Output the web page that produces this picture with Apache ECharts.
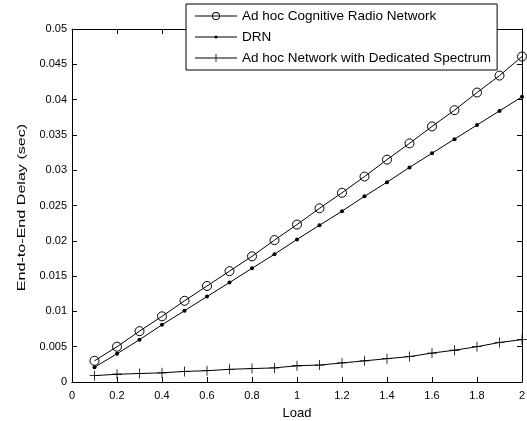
<!DOCTYPE html>
<html>
<head>
<meta charset="utf-8">
<script src="https://cdn.jsdelivr.net/npm/echarts@6/dist/echarts.min.js"></script>
<style>
html,body{margin:0;padding:0;background:#fff;}
#chart{width:527px;height:421px;}
</style>
</head>
<body>
<div id="chart"></div>
<script>
const loads = [0.1,0.2,0.3,0.4,0.5,0.6,0.7,0.8,0.9,1.0,1.1,1.2,1.3,1.4,1.5,1.6,1.7,1.8,1.9,2.0];
const acrn = [0.0030,0.0050,0.0072,0.0093,0.0115,0.0136,0.0157,0.0178,0.0201,0.0223,0.0246,0.0268,0.0291,0.0315,0.0338,0.0362,0.0385,0.0410,0.0434,0.0461];
const drn = [0.0021,0.0040,0.0060,0.0081,0.0101,0.0121,0.0141,0.0161,0.0181,0.0202,0.0222,0.0242,0.0263,0.0283,0.0304,0.0324,0.0344,0.0364,0.0384,0.0404];
const dedicated = [0.0009,0.0011,0.0012,0.0013,0.0015,0.0016,0.0018,0.0019,0.0020,0.0023,0.0024,0.0027,0.0030,0.0033,0.0036,0.0041,0.0045,0.0050,0.0056,0.0060];
const seriesNames = ['Ad hoc Cognitive Radio Network','DRN','Ad hoc Network with Dedicated Spectrum'];
const xTitle = 'Load';
const yTitle = 'End-to-End Delay (sec)';

const FONT = 'Liberation Sans, Arial, sans-serif';
const pair = arr => loads.map((x,i)=>[x,arr[i]]);
const plusPath = 'path://M4.6,0h0.8v10h-0.8zM0,4.6h10v0.8h-10z';

// legend icons (42 x 10 box; tiny corner marks fix the bounding box)
const corners = 'M0,0h0.01v0.01h-0.01zM41.99,9.99h0.01v0.01h-0.01z';
const legLine = 'M0,4.5h42v1h-42z';
const iconCircle = 'path://' + corners + legLine +
  'M17,5a4,4 0 1,1 8,0a4,4 0 1,1 -8,0zM17.9,5a3.1,3.1 0 1,0 6.2,0a3.1,3.1 0 1,0 -6.2,0z';
const iconDot = 'path://' + corners + legLine + 'M19.4,5a1.6,1.6 0 1,1 3.2,0a1.6,1.6 0 1,1 -3.2,0z';
const iconPlus = 'path://' + corners + legLine + 'M20.6,1h0.8v8h-0.8z';

const chart = echarts.init(document.getElementById('chart'), null, {renderer:'canvas'});
const axisCommon = {
  axisLine:{show:true,onZero:false,lineStyle:{color:'#000',width:1}},
  axisTick:{show:true,inside:true,length:5,lineStyle:{color:'#000'}},
  splitLine:{show:false},
  axisLabel:{color:'#000',fontFamily:FONT,fontSize:11}
};
const legendItemStyle = {color:'#000',borderWidth:0};
chart.setOption({
  animation:false,
  backgroundColor:'#fff',
  grid:{left:72,right:5,top:29,bottom:39,containLabel:false,outerBoundsMode:'none'},
  legend:{
    orient:'vertical',
    left:186,top:4,
    backgroundColor:'#fff',
    borderColor:'#000',borderWidth:1,borderRadius:0,
    padding:[5,6,5,9],
    itemWidth:42,itemHeight:10,itemGap:7,
    symbolKeepAspect:false,
    textStyle:{color:'#000',fontFamily:FONT,fontSize:13.5},
    data:[
      {name:seriesNames[0],icon:iconCircle,itemStyle:legendItemStyle},
      {name:seriesNames[1],icon:iconDot,itemStyle:legendItemStyle},
      {name:seriesNames[2],icon:iconPlus,itemStyle:legendItemStyle}
    ]
  },
  graphic:[{
    type:'text',
    x:22,y:207.5,
    rotation:Math.PI/2,
    scaleX:1.4,scaleY:1,
    style:{text:yTitle,fill:'#000',font:'11.5px Liberation Sans, Arial, sans-serif',
      align:'center',verticalAlign:'middle'}
  }],
  xAxis:[
    Object.assign({type:'value',min:0,max:2,interval:0.2,position:'bottom',
      name:xTitle,nameLocation:'middle',nameGap:25,
      nameTextStyle:{color:'#000',fontFamily:FONT,fontSize:13}},axisCommon,
      {axisLabel:{color:'#000',fontFamily:FONT,fontSize:11,margin:8}}),
    Object.assign({type:'value',min:0,max:2,interval:0.2,position:'top'},axisCommon,{axisLabel:{show:false}})
  ],
  yAxis:[
    Object.assign({type:'value',min:0,max:0.05,interval:0.005,position:'left'},axisCommon,
      {axisLabel:{color:'#000',fontFamily:FONT,fontSize:11,margin:5}}),
    Object.assign({type:'value',min:0,max:0.05,interval:0.005,position:'right'},axisCommon,{axisLabel:{show:false}})
  ],
  series:[
    {name:seriesNames[0],type:'line',data:pair(acrn),symbol:'circle',symbolSize:9,showAllSymbol:true,
      lineStyle:{color:'#000',width:1},itemStyle:{color:'rgba(255,255,255,0)',borderColor:'#000',borderWidth:1}},
    {name:seriesNames[1],type:'line',data:pair(drn),symbol:'circle',symbolSize:4,showAllSymbol:true,
      lineStyle:{color:'#000',width:1},itemStyle:{color:'#000',borderColor:'#000',borderWidth:0}},
    {name:seriesNames[2],type:'line',data:pair(dedicated),symbol:plusPath,symbolSize:10,showAllSymbol:true,
      lineStyle:{color:'#000',width:1},itemStyle:{color:'#000',borderWidth:0}}
  ]
});
</script>
</body>
</html>
